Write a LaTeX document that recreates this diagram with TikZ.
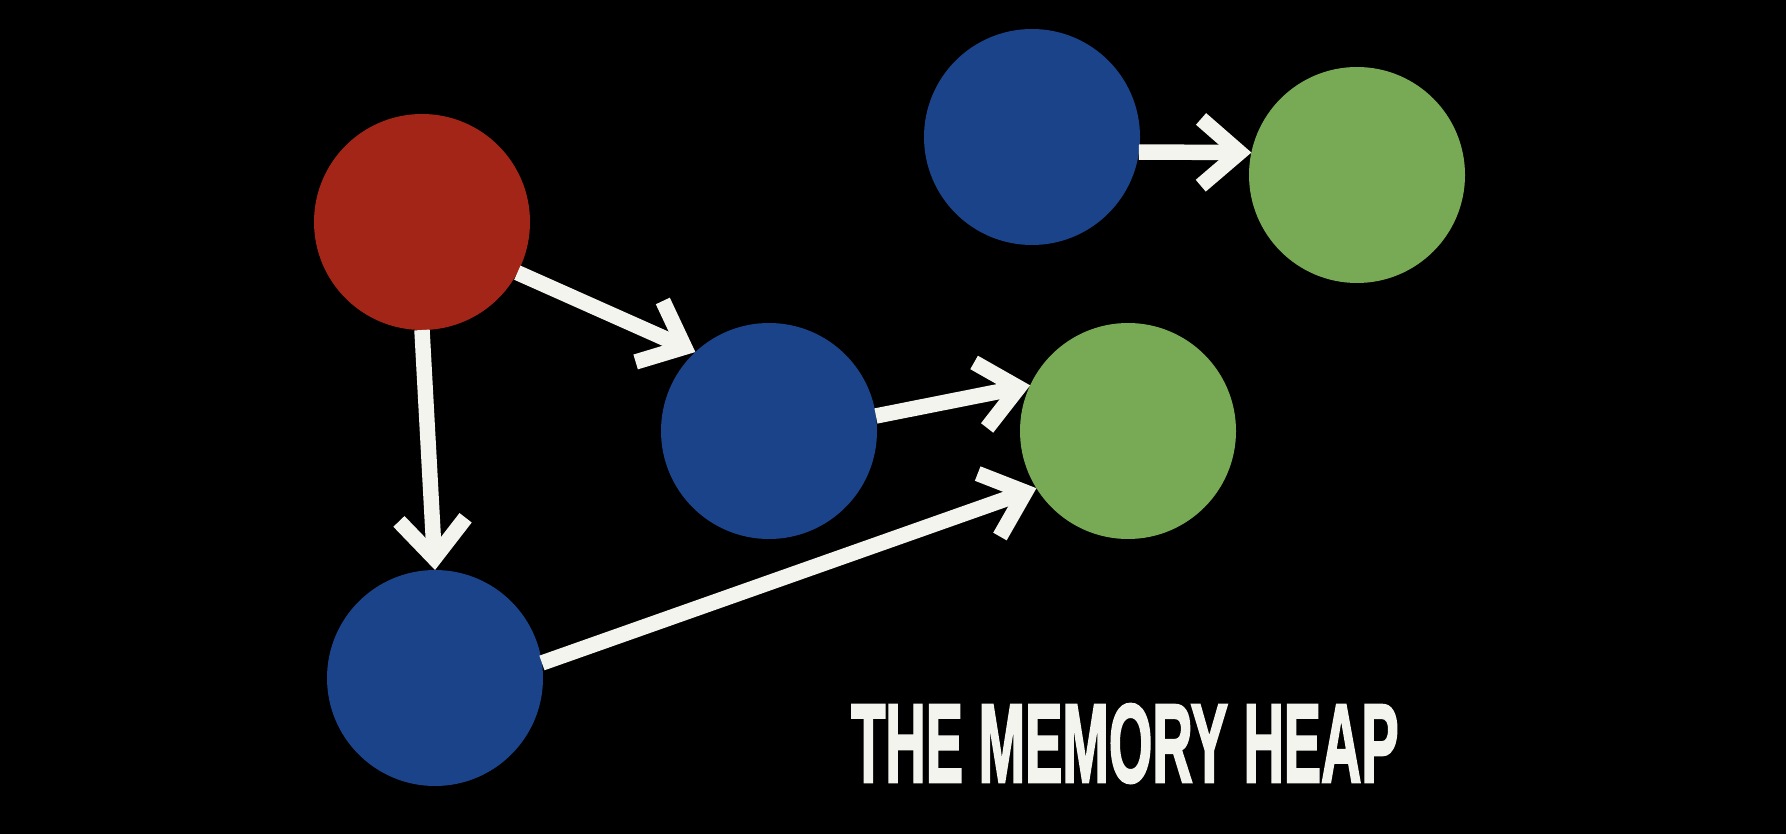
\documentclass[tikz,border=0pt]{standalone}
\usepackage{fontspec}
\newfontfamily\heapfont{Liberation Sans Bold}[FakeBold=2.5]
\usetikzlibrary{arrows.meta}

\definecolor{heapred}{RGB}{162,37,24}
\definecolor{heapblue}{RGB}{27,67,138}
\definecolor{heapgreen}{RGB}{120,170,85}
\definecolor{heapwhite}{RGB}{244,244,238}

\begin{document}
\begin{tikzpicture}[
    x=0.1mm, y=-0.1mm,
    obj/.style={circle, minimum size=2.16cm, inner sep=0pt, outer sep=0pt},
    rootobj/.style={obj, fill=heapred},
    blueobj/.style={obj, fill=heapblue},
    greenobj/.style={obj, fill=heapgreen},
    ref/.style={-{Straight Barb[length=11pt, width=19pt]}, line width=4.4pt, draw=heapwhite}
]
    \fill[black] (0,0) rectangle (1786,834);

    \node[rootobj] (root) at (422,222) {};
    \node[blueobj] (mid) at (769,431) {};
    \node[blueobj] (low) at (435,678) {};
    \node[greenobj] (target) at (1128,431) {};
    \node[blueobj] (island) at (1032,137) {};
    \node[greenobj] (leaf) at (1357,175) {};

    \draw[ref] (root.-28) -- (mid.133);
    \draw[ref] (root.south) -- (low.north);
    \draw[ref] (mid.8) -- (target.155);
    \draw[ref] (low.8) -- (target.212);
    \draw[ref] (island.-8) -- (leaf.168);

    \node[anchor=base, text=heapwhite, inner sep=0pt] (title) at (1125,782)
        {\scalebox{0.5}[1]{\heapfont\fontsize{31.8pt}{36pt}\selectfont THE MEMORY HEAP}};
\end{tikzpicture}
\end{document}
